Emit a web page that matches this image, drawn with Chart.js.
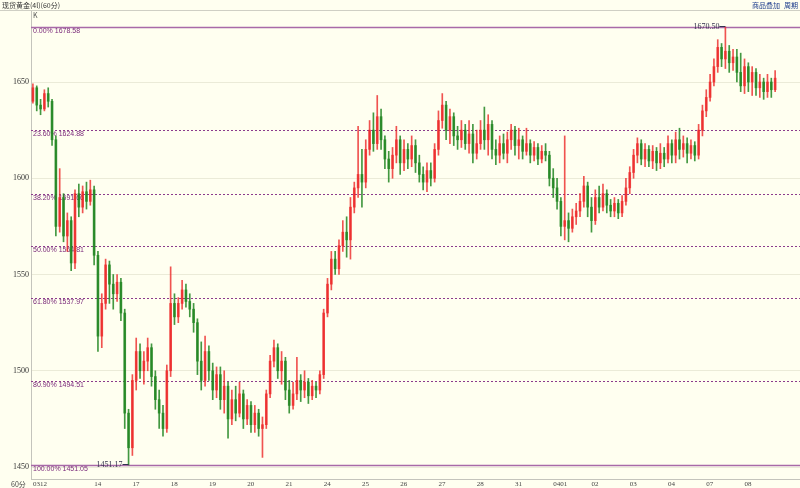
<!DOCTYPE html>
<html>
<head>
<meta charset="utf-8">
<script src="https://cdn.jsdelivr.net/npm/chart.js@4.4.1/dist/chart.umd.min.js"></script>
<style>
  html, body { margin: 0; padding: 0; background: #fffff0; }
  canvas { display: block; }
</style>
</head>
<body>
<canvas id="chart" width="800" height="488"></canvas>
<script>
// trading days shown on the axis and how many bars each one gets ('' = day 13, label hidden)
const dayLabels = ['0312', '', '14', '17', '18', '19', '20', '21', '24', '25', '26', '27', '28', '31', '0401', '02', '03', '04', '07', '08'];
const dayBars = [6, 10, 10, 10, 10, 10, 10, 10, 10, 10, 10, 10, 10, 10, 10, 10, 10, 10, 10, 9];
const emptySlots = 6; // blank room at the right edge

const openPrices = [
  1640,1647,1638,1636,1644,1640,
  1620,1575,1590,1570,1578,1556,1592,1585,1593,1588,
  1594,1560,1518,1535,1555,1545,1540,1546,1530,1478,
  1460,1495,1510,1500,1505,1512,1497,1485,1478,1470,
  1500,1535,1528,1535,1542,1536,1532,1525,1505,1495,
  1510,1500,1490,1498,1485,1492,1475,1485,1478,1488,
  1475,1482,1472,1478,1470,1472,1488,1505,1512,1500,
  1505,1490,1482,1488,1495,1490,1494,1487,1492,1490,
  1498,1530,1545,1558,1553,1565,1572,1568,1585,1595,
  1602,1598,1615,1625,1618,1632,1620,1610,1605,1612,
  1620,1608,1615,1610,1617,1608,1602,1598,1604,1600,
  1615,1630,1638,1625,1632,1622,1620,1625,1618,1623,
  1613,1618,1625,1620,1628,1615,1612,1618,1613,1620,
  1625,1617,1620,1614,1618,1612,1616,1610,1614,1612,
  1600,1595,1588,1575,1578,1574,1580,1583,1588,1596,
  1585,1578,1590,1585,1592,1586,1583,1587,1582,1588,
  1595,1603,1612,1618,1610,1615,1609,1614,1608,1613,
  1610,1618,1612,1620,1615,1618,1613,1617,1612,1625,
  1635,1642,1650,1658,1668,1662,1666,1660,1663,1655,
  1648,1658,1650,1655,1647,1650,1645,1650,1646
];
const highPrices = [
  1649,1648,1641,1646,1647,1641,
  1622,1605,1592,1582,1580,1594,1597,1596,1598,1599,
  1596,1562,1540,1558,1557,1550,1550,1548,1532,1480,
  1498,1517,1514,1510,1517,1514,1500,1490,1482,1503,
  1554,1540,1538,1547,1545,1540,1535,1527,1515,1518,
  1513,1504,1502,1502,1500,1494,1490,1492,1494,1490,
  1485,1484,1482,1480,1476,1490,1508,1516,1514,1510,
  1507,1495,1494,1507,1498,1500,1496,1495,1494,1500,
  1532,1548,1562,1562,1568,1578,1580,1590,1598,1627,
  1615,1620,1630,1634,1643,1636,1622,1614,1616,1627,
  1622,1620,1618,1622,1620,1612,1606,1608,1608,1618,
  1635,1644,1640,1636,1634,1627,1630,1628,1630,1628,
  1625,1630,1637,1633,1630,1620,1622,1623,1624,1628,
  1627,1626,1622,1626,1620,1619,1618,1617,1618,1614,
  1605,1600,1590,1622,1582,1584,1587,1592,1601,1598,
  1590,1594,1596,1597,1594,1589,1590,1589,1591,1600,
  1606,1615,1621,1620,1618,1617,1617,1616,1618,1616,
  1622,1620,1624,1626,1622,1621,1620,1619,1628,1638,
  1646,1654,1662,1672,1670,1678.58,1669,1667,1667,1665,
  1662,1660,1658,1657,1654,1652,1654,1652,1656
];
const lowPrices = [
  1639,1635,1633,1635,1637,1617,
  1570,1572,1567,1562,1552,1553,1580,1582,1584,1586,
  1555,1510,1512,1532,1535,1532,1536,1526,1470,1451.05,
  1456,1490,1496,1493,1500,1492,1480,1470,1466,1468,
  1497,1524,1525,1532,1533,1528,1520,1498,1490,1492,
  1495,1485,1486,1480,1478,1465,1472,1474,1476,1470,
  1472,1468,1468,1466,1455,1470,1486,1502,1496,1493,
  1485,1478,1480,1485,1484,1486,1483,1485,1486,1488,
  1496,1528,1542,1550,1550,1562,1559,1558,1582,1590,
  1585,1595,1612,1614,1615,1615,1605,1598,1600,1608,
  1602,1604,1605,1606,1603,1598,1594,1593,1596,1598,
  1612,1626,1620,1618,1617,1615,1616,1615,1613,1608,
  1610,1615,1615,1612,1610,1607,1608,1610,1608,1615,
  1612,1610,1610,1612,1608,1609,1607,1608,1609,1596,
  1590,1584,1570,1568,1567,1572,1576,1580,1585,1580,
  1572,1576,1582,1583,1582,1580,1580,1579,1580,1586,
  1592,1600,1608,1607,1606,1606,1605,1604,1605,1606,
  1608,1608,1608,1610,1611,1608,1610,1609,1610,1622,
  1632,1640,1648,1655,1658,1657,1655,1656,1650,1645,
  1644,1645,1643,1643,1642,1641,1642,1642,1645
];
const closePrices = [
  1647,1638,1636,1644,1640,1620,
  1575,1590,1570,1578,1556,1592,1585,1593,1588,1594,
  1560,1518,1535,1555,1545,1540,1546,1530,1478,1460,
  1495,1510,1500,1505,1512,1497,1485,1478,1470,1500,
  1535,1528,1535,1542,1536,1532,1525,1505,1495,1510,
  1500,1490,1498,1485,1492,1475,1485,1478,1488,1475,
  1482,1472,1478,1470,1472,1488,1505,1512,1500,1505,
  1490,1482,1488,1495,1490,1494,1487,1492,1490,1498,
  1530,1545,1558,1553,1565,1572,1568,1585,1595,1602,
  1598,1615,1625,1618,1632,1620,1610,1605,1612,1620,
  1608,1615,1610,1617,1608,1602,1598,1604,1600,1615,
  1630,1638,1625,1632,1622,1620,1625,1618,1623,1613,
  1618,1625,1620,1628,1615,1612,1618,1613,1620,1625,
  1617,1620,1614,1618,1612,1616,1610,1614,1612,1600,
  1595,1588,1575,1578,1574,1580,1583,1588,1596,1585,
  1578,1590,1585,1592,1586,1583,1587,1582,1588,1595,
  1603,1612,1618,1610,1615,1609,1614,1608,1613,1610,
  1618,1612,1620,1615,1618,1613,1617,1612,1625,1635,
  1642,1650,1658,1668,1662,1666,1660,1663,1655,1648,
  1658,1650,1655,1647,1650,1645,1650,1646,1652
];

const yTicks = [1450, 1500, 1550, 1600, 1650];
const fibLabels = ['0.00%', '23.60%', '38.20%', '50.00%', '61.80%', '80.90%', '100.00%'];
const fibPrices = [1678.58, 1624.88, 1591.66, 1564.81, 1537.97, 1494.51, 1451.05];
const highText = '1670.50';
const lowText = '1451.17';

const UP = 'rgba(236, 40, 40, 0.8)';
const DOWN = 'rgba(34, 134, 34, 0.85)';

// one label per bar slot, day name on the first bar of each day
const labels = [];
dayLabels.forEach((d, i) => {
    for (let k = 0; k < dayBars[i]; k++) labels.push(k === 0 ? d : '');
});
for (let k = 0; k < emptySlots; k++) labels.push('');

const bodies = labels.map((_, i) => i < closePrices.length ? [openPrices[i], closePrices[i]] : null);
const wicks = labels.map((_, i) => i < closePrices.length ? [lowPrices[i], highPrices[i]] : null);
const barColors = labels.map((_, i) => i < closePrices.length && closePrices[i] >= openPrices[i] ? UP : DOWN);

const decor = {
    id: 'decor',
    beforeDraw(chart) {
        const ctx = chart.ctx;
        ctx.save();
        ctx.fillStyle = '#fffff0';
        ctx.fillRect(0, 0, chart.width, chart.height);
        ctx.restore();
    },
    beforeDatasetsDraw(chart) {
        const { ctx, chartArea, scales: { y } } = chart;
        ctx.save();
        fibPrices.forEach((price, i) => {
            const solid = i === 0 || i === fibPrices.length - 1;
            const py = Math.round(y.getPixelForValue(price)) + 0.5;
            ctx.beginPath();
            ctx.setLineDash(solid ? [] : [2, 2]);
            ctx.lineWidth = solid ? 1.5 : 1;
            ctx.strokeStyle = solid ? '#a86aa8' : '#8c3c8c';
            ctx.moveTo(chartArea.left, py);
            ctx.lineTo(chartArea.right, py);
            ctx.stroke();
            ctx.setLineDash([]);
            ctx.fillStyle = '#7a2a7a';
            ctx.font = '7px "Liberation Sans"';
            ctx.textBaseline = 'middle';
            ctx.textAlign = 'left';
            ctx.fillText(fibLabels[i] + ' ' + price.toFixed(2), chartArea.left + 2, py + 4);
        });
        ctx.restore();
    },
    afterDraw(chart) {
        const { ctx, chartArea, scales: { x, y } } = chart;
        ctx.save();
        // title bar
        ctx.strokeStyle = '#cfcfc4';
        ctx.lineWidth = 1;
        ctx.beginPath();
        ctx.moveTo(0, 10.5);
        ctx.lineTo(chart.width, 10.5);
        ctx.stroke();
        ctx.textBaseline = 'middle';
        ctx.fillStyle = '#333';
        ctx.font = '7px "Noto Sans CJK SC"';
        ctx.textAlign = 'left';
        ctx.fillText('现货黄金(4l)(60分)', 2, 5);
        ctx.fillStyle = '#1c3c8c';
        ctx.fillText('商品叠加', 752, 5);
        ctx.fillText('周期', 784, 5);
        ctx.fillStyle = '#555';
        ctx.fillText('K', chartArea.left + 2, 15);
        ctx.fillStyle = '#444';
        ctx.fillText('60分', 11, 484);

        // high / low markers
        const hi = highPrices.indexOf(Math.max(...highPrices));
        const lo = lowPrices.indexOf(Math.min(...lowPrices));
        ctx.font = '8px "Liberation Serif"';
        ctx.fillStyle = '#33334d';
        ctx.strokeStyle = '#33334d';
        [[hi, highPrices[hi], highText], [lo, lowPrices[lo], lowText]].forEach(([idx, val, txt]) => {
            const px = x.getPixelForValue(idx);
            const py = Math.round(y.getPixelForValue(val)) - 0.5;
            ctx.beginPath();
            ctx.moveTo(px - 6, py);
            ctx.lineTo(px, py);
            ctx.stroke();
            ctx.textAlign = 'right';
            ctx.fillText(txt, px - 6, py);
        });
        ctx.restore();
    }
};

new Chart(document.getElementById('chart'), {
    type: 'bar',
    data: {
        labels: labels,
        datasets: [
            {
                label: 'body',
                data: bodies,
                backgroundColor: barColors,
                barThickness: 2,
                minBarLength: 1,
                grouped: false,
                order: 0
            },
            {
                label: 'wick',
                data: wicks,
                backgroundColor: barColors,
                barThickness: 1,
                grouped: false,
                order: 1
            }
        ]
    },
    options: {
        responsive: false,
        animation: false,
        devicePixelRatio: 1,
        layout: { padding: { top: 11, left: 0, right: 0, bottom: 0 } },
        plugins: { legend: { display: false }, tooltip: { enabled: false } },
        scales: {
            x: {
                offset: true,
                grid: { display: false, drawTicks: false },
                border: { display: true, color: '#c4c4bc' },
                ticks: {
                    autoSkip: false,
                    maxRotation: 0,
                    minRotation: 0,
                    align: 'start',
                    padding: 1,
                    color: '#444',
                    font: { family: 'Liberation Serif', size: 7 },
                    callback: (v, i) => labels[i]
                },
                afterFit: (scale) => { scale.height = 9; }
            },
            y: {
                min: 1443.78,
                max: 1686.89,
                grid: { color: '#ebebd8', drawTicks: false },
                border: { display: true, color: '#c4c4bc' },
                ticks: {
                    padding: 2,
                    color: '#333',
                    font: { family: 'Liberation Serif', size: 8 },
                    callback: (v) => String(v)
                },
                afterBuildTicks: (scale) => { scale.ticks = yTicks.map(v => ({ value: v })); },
                afterFit: (scale) => { scale.width = 31; }
            }
        }
    },
    plugins: [decor]
});
</script>
</body>
</html>
